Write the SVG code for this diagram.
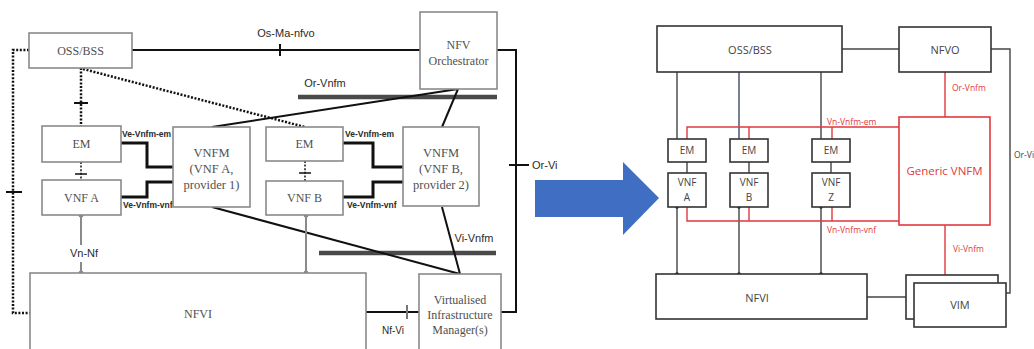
<svg xmlns="http://www.w3.org/2000/svg" width="1034" height="349" viewBox="0 0 1034 349">
  <style>
    .bx { fill: #fff; stroke: #8a8a8a; stroke-width: 1.6; }
    .sf { font-family: "Liberation Serif", "Times New Roman", serif; font-size: 12px; fill: #505050; text-anchor: middle; }
    .lb { font-family: "Liberation Sans", Arial, sans-serif; font-size: 11px; fill: #2a2a2a; }
    .lbs { font-family: "Liberation Sans", Arial, sans-serif; font-size: 8.5px; font-weight: bold; fill: #2a2a2a; }
    .thick { fill: none; stroke: #111; stroke-width: 3; }
    .thin { fill: none; stroke: #111; stroke-width: 2; }
    .dot { fill: none; stroke: #111; stroke-width: 2.5; stroke-dasharray: 2 1.6; }
    .bar { stroke: #4a4a4a; stroke-width: 4.5; }
    .gl { stroke: #8a8a8a; stroke-width: 2; fill: none; }
    .gd { fill: #8a8a8a; }
    .rb { fill: #fff; stroke: #333; stroke-width: 1.6; }
    .rt { font-family: "Open Sans", "Liberation Sans", sans-serif; font-size: 11px; fill: #444; text-anchor: middle; }
    .rts { font-family: "Open Sans", "Liberation Sans", sans-serif; font-size: 10px; fill: #444; text-anchor: middle; }
    .rl { stroke: #444; stroke-width: 1.4; fill: none; }
    .red { stroke: #e0393e; stroke-width: 1.4; fill: none; }
    .rlab { font-family: "Open Sans", "Liberation Sans", sans-serif; font-size: 8.5px; fill: #e0393e; }
  </style>

  <!-- ETSI reference architecture (left) -->
  <g id="connectors-left">
    <!-- Os-Ma-nfvo -->
    <line class="thin" x1="132" y1="50" x2="420" y2="50"/>
    <line class="thin" x1="280" y1="44" x2="280" y2="56"/>
    <!-- Or-Vi -->
    <polyline class="thin" points="497,50 516,50 516,312 501,312"/>
    <line class="thin" x1="509" y1="165" x2="529" y2="165"/>
    <!-- OSS/BSS dotted links -->
    <polyline class="dot" points="29,50 13,50 13,313 30,313"/>
    <line class="thin" x1="6" y1="192" x2="22" y2="192"/>
    <line class="dot" x1="81" y1="68" x2="81" y2="126"/>
    <line class="thin" x1="74" y1="103" x2="88" y2="103"/>
    <line class="dot" x1="83" y1="69" x2="305" y2="127"/>
    <!-- EM to VNF -->
    <line class="dot" x1="81" y1="162" x2="81" y2="180" style="stroke-width:1.5"/>
    <line class="thin" x1="75" y1="174" x2="87" y2="174" style="stroke-width:1.5"/>
    <line class="dot" x1="305" y1="161" x2="305" y2="181" style="stroke-width:1.5"/>
    <line class="thin" x1="299" y1="173" x2="311" y2="173" style="stroke-width:1.5"/>
    <!-- Ve-Vnfm-em / Ve-Vnfm-vnf -->
    <polyline class="thick" points="121,143 147,143 147,167 173,167"/>
    <polyline class="thick" points="121,197 147,197 147,182 173,182"/>
    <polyline class="thick" points="343,143 373,143 373,167 403,167"/>
    <polyline class="thick" points="343,197 373,197 373,182 403,182"/>
    <!-- Or-Vnfm -->
    <line class="bar" x1="298" y1="97" x2="497" y2="97"/>
    <line class="thin" x1="458" y1="89" x2="212" y2="127"/>
    <line class="thin" x1="458" y1="89" x2="442" y2="127"/>
    <!-- Vi-Vnfm -->
    <line class="bar" x1="319" y1="253" x2="496" y2="253"/>
    <line class="thin" x1="212" y1="207" x2="460" y2="274"/>
    <line class="thin" x1="442" y1="207" x2="460" y2="274"/>
    <!-- Vn-Nf -->
    <line class="gl" x1="81" y1="215" x2="81" y2="245"/>
    <line class="gl" x1="81" y1="262" x2="81" y2="273"/>
    <line class="gl" x1="306" y1="215" x2="306" y2="273"/>
    <circle class="gd" cx="81" cy="215" r="2.5"/>
    <circle class="gd" cx="81" cy="273" r="2.5"/>
    <circle class="gd" cx="306" cy="215" r="2.5"/>
    <circle class="gd" cx="306" cy="273" r="2.5"/>
    <!-- Nf-Vi -->
    <line class="thin" x1="366" y1="312" x2="419" y2="312"/>
    <line class="thin" x1="407" y1="305" x2="407" y2="319" style="stroke:#777"/>

    <text class="lb" x="286" y="37" text-anchor="middle">Os-Ma-nfvo</text>
    <text class="lb" x="325" y="87" text-anchor="middle">Or-Vnfm</text>
    <text class="lb" x="474" y="242" text-anchor="middle">Vi-Vnfm</text>
    <text class="lb" x="532" y="169">Or-Vi</text>
    <text class="lb" x="84" y="257" text-anchor="middle">Vn-Nf</text>
    <text class="lb" x="393" y="334" text-anchor="middle" style="font-size:10px">Nf-Vi</text>
    <text class="lbs" x="122" y="137">Ve-Vnfm-em</text>
    <text class="lbs" x="345" y="137">Ve-Vnfm-em</text>
    <text class="lbs" x="123" y="208">Ve-Vnfm-vnf</text>
    <text class="lbs" x="347" y="208">Ve-Vnfm-vnf</text>
  </g>

  <g id="oss-bss">
    <rect class="bx" x="29" y="33" width="103" height="35"/>
    <text class="sf" x="80.5" y="55">OSS/BSS</text>
  </g>
  <g id="nfv-orchestrator">
    <rect class="bx" x="420" y="12" width="77" height="77"/>
    <text class="sf" x="458.5" y="49">NFV</text>
    <text class="sf" x="458.5" y="65">Orchestrator</text>
  </g>
  <g id="em-a">
    <rect class="bx" x="42" y="126" width="79" height="36"/>
    <text class="sf" x="81.5" y="148">EM</text>
  </g>
  <g id="vnf-a">
    <rect class="bx" x="42" y="180" width="79" height="35"/>
    <text class="sf" x="81.5" y="202">VNF A</text>
  </g>
  <g id="vnfm-a">
    <rect class="bx" x="173" y="127" width="77" height="80"/>
    <text class="sf" x="211.5" y="157" style="font-size:12.5px">VNFM</text>
    <text class="sf" x="211.5" y="173" style="font-size:12.5px">(VNF A,</text>
    <text class="sf" x="211.5" y="189" style="font-size:12.5px">provider 1)</text>
  </g>
  <g id="em-b">
    <rect class="bx" x="266" y="127" width="77" height="34"/>
    <text class="sf" x="304.5" y="148">EM</text>
  </g>
  <g id="vnf-b">
    <rect class="bx" x="266" y="181" width="77" height="34"/>
    <text class="sf" x="304.5" y="202">VNF B</text>
  </g>
  <g id="vnfm-b">
    <rect class="bx" x="403" y="127" width="76" height="79"/>
    <text class="sf" x="441" y="157" style="font-size:12.5px">VNFM</text>
    <text class="sf" x="441" y="173" style="font-size:12.5px">(VNF B,</text>
    <text class="sf" x="441" y="189" style="font-size:12.5px">provider 2)</text>
  </g>
  <g id="nfvi">
    <rect class="bx" x="30" y="273" width="336" height="90"/>
    <text class="sf" x="198" y="318">NFVI</text>
  </g>
  <g id="vim">
    <rect class="bx" x="419" y="274" width="82" height="90"/>
    <text class="sf" x="460" y="304">Virtualised</text>
    <text class="sf" x="460" y="319">Infrastructure</text>
    <text class="sf" x="460" y="334">Manager(s)</text>
  </g>

  <!-- transition arrow -->
  <g id="arrow">
    <polygon points="535,180 623,180 623,162 659,198 623,235 623,217 535,217" fill="#3f6ec2"/>
  </g>

  <!-- Generic VNFM architecture (right) -->
  <g id="connectors-right">
    <line class="rl" x1="842" y1="49" x2="899" y2="49"/>
    <polyline class="rl" points="991,49 1010,49 1010,293 1006,293"/>
    <line class="rl" x1="677" y1="72" x2="677" y2="139"/>
    <line class="rl" x1="739" y1="72" x2="739" y2="139" style="stroke:#3e4a66"/>
    <line class="rl" x1="821" y1="72" x2="821" y2="139"/>
    <line class="rl" x1="687" y1="162" x2="687" y2="173"/>
    <line class="rl" x1="749" y1="162" x2="749" y2="173"/>
    <line class="rl" x1="831" y1="162" x2="831" y2="173"/>
    <line class="rl" x1="677" y1="207" x2="677" y2="274"/>
    <line class="rl" x1="739" y1="207" x2="739" y2="274"/>
    <line class="rl" x1="821" y1="207" x2="821" y2="274"/>
    <circle cx="677" cy="207" r="1.8" fill="#222"/>
    <circle cx="739" cy="207" r="1.8" fill="#222"/>
    <circle cx="821" cy="207" r="1.8" fill="#222"/>
    <circle cx="677" cy="274" r="1.8" fill="#222"/>
    <circle cx="739" cy="274" r="1.8" fill="#222"/>
    <circle cx="821" cy="274" r="1.8" fill="#222"/>
    <line class="rl" x1="867" y1="297" x2="906" y2="297"/>
    <!-- red management interfaces -->
    <line class="red" x1="945" y1="72" x2="945" y2="117"/>
    <line class="red" x1="945" y1="225" x2="945" y2="275"/>
    <polyline class="red" points="687,139 687,127 899,127"/>
    <line class="red" x1="749" y1="127" x2="749" y2="139"/>
    <line class="red" x1="832" y1="127" x2="832" y2="139"/>
    <polyline class="red" points="687,207 687,221 899,221"/>
    <line class="red" x1="749" y1="207" x2="749" y2="221"/>
    <line class="red" x1="832" y1="207" x2="832" y2="221"/>
    <text class="rlab" x="952" y="91">Or-Vnfm</text>
    <text class="rlab" x="953" y="252">Vi-Vnfm</text>
    <text class="rlab" x="827" y="125">Vn-Vnfm-em</text>
    <text class="rlab" x="827" y="233">Vn-Vnfm-vnf</text>
    <text class="rts" x="1014" y="158" style="text-anchor:start;font-size:8.5px">Or-Vi</text>
  </g>

  <g id="r-oss-bss">
    <rect class="rb" x="657" y="26" width="185" height="46"/>
    <text class="rt" x="750" y="54">OSS/BSS</text>
  </g>
  <g id="r-nfvo">
    <rect class="rb" x="899" y="27" width="92" height="45"/>
    <text class="rt" x="945" y="54">NFVO</text>
  </g>
  <g id="r-em-a">
    <rect class="rb" x="668" y="139" width="38" height="23"/>
    <text class="rts" x="687" y="154">EM</text>
  </g>
  <g id="r-vnf-a">
    <rect class="rb" x="668" y="173" width="38" height="34"/>
    <text class="rts" x="687" y="186">VNF</text>
    <text class="rts" x="687" y="201">A</text>
  </g>
  <g id="r-em-b">
    <rect class="rb" x="730" y="139" width="38" height="23"/>
    <text class="rts" x="749" y="154">EM</text>
  </g>
  <g id="r-vnf-b">
    <rect class="rb" x="730" y="173" width="38" height="34"/>
    <text class="rts" x="749" y="186">VNF</text>
    <text class="rts" x="749" y="201">B</text>
  </g>
  <g id="r-em-z">
    <rect class="rb" x="812" y="139" width="38" height="23"/>
    <text class="rts" x="831" y="154">EM</text>
  </g>
  <g id="r-vnf-z">
    <rect class="rb" x="812" y="173" width="38" height="34"/>
    <text class="rts" x="831" y="186">VNF</text>
    <text class="rts" x="831" y="201">Z</text>
  </g>
  <g id="r-generic-vnfm">
    <rect x="899" y="117" width="91" height="108" fill="#fff" stroke="#e0393e" stroke-width="1.6"/>
    <text class="rt" x="944.5" y="175" style="fill:#e0393e;font-size:11.5px">Generic VNFM</text>
  </g>
  <g id="r-nfvi">
    <rect class="rb" x="656" y="274" width="211" height="45"/>
    <text class="rt" x="757" y="302">NFVI</text>
  </g>
  <g id="r-vim">
    <rect class="rb" x="906" y="275" width="92" height="44"/>
    <rect class="rb" x="914" y="283" width="92" height="44"/>
    <text class="rt" x="960" y="309">VIM</text>
  </g>
</svg>
